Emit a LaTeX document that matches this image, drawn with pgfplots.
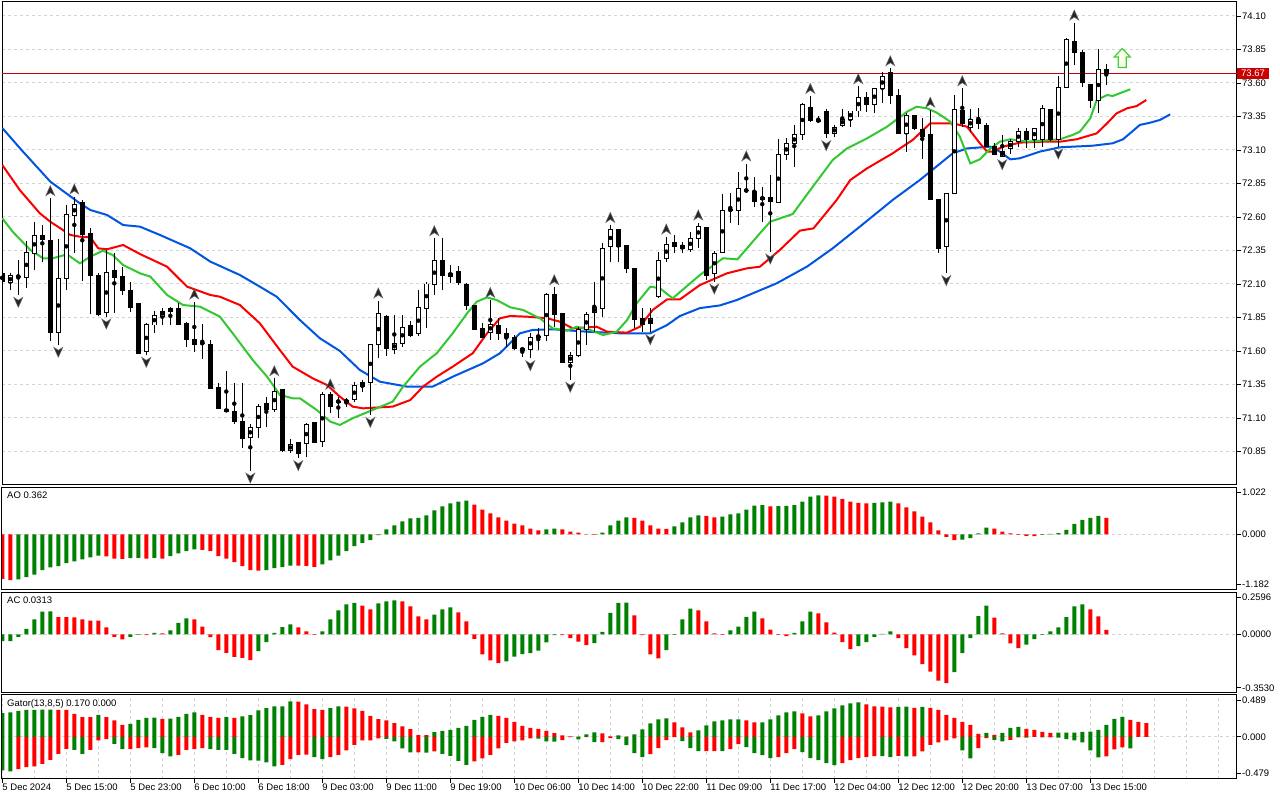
\documentclass[border=0pt]{standalone}
\usepackage{fontspec}
\setmainfont{Liberation Sans}
\usepackage{pgfplots}
\usepackage{pgfplotstable}
\pgfplotsset{compat=1.18}
\definecolor{hgreen}{RGB}{0,128,0}
\definecolor{hred}{RGB}{255,0,0}
\definecolor{jawc}{RGB}{0,85,225}
\definecolor{teethc}{RGB}{250,0,0}
\definecolor{lipsc}{RGB}{50,200,50}
\definecolor{gridc}{RGB}{212,212,212}
\definecolor{pricered}{RGB}{200,0,0}
\definecolor{arrowg}{RGB}{60,210,60}

\pgfdeclareplotmark{fup}{%
  \pgfpathmoveto{\pgfpoint{0pt}{5pt}}%
  \pgfpathlineto{\pgfpoint{4.5pt}{-5pt}}%
  \pgfpathlineto{\pgfpoint{0pt}{-2pt}}%
  \pgfpathlineto{\pgfpoint{-4.5pt}{-5pt}}%
  \pgfpathclose\pgfusepathqfillstroke}
\pgfdeclareplotmark{fdown}{%
  \pgfpathmoveto{\pgfpoint{0pt}{-5pt}}%
  \pgfpathlineto{\pgfpoint{4.5pt}{5pt}}%
  \pgfpathlineto{\pgfpoint{0pt}{2pt}}%
  \pgfpathlineto{\pgfpoint{-4.5pt}{5pt}}%
  \pgfpathclose\pgfusepathqfillstroke}
\pgfdeclareplotmark{buyarrow}{%
  \pgfpathmoveto{\pgfpoint{0pt}{9.5pt}}%
  \pgfpathlineto{\pgfpoint{8pt}{1pt}}%
  \pgfpathlineto{\pgfpoint{4pt}{1pt}}%
  \pgfpathlineto{\pgfpoint{4pt}{-9.5pt}}%
  \pgfpathlineto{\pgfpoint{-4pt}{-9.5pt}}%
  \pgfpathlineto{\pgfpoint{-4pt}{1pt}}%
  \pgfpathlineto{\pgfpoint{-8pt}{1pt}}%
  \pgfpathclose\pgfusepathqfillstroke}

\pgfplotstableread{
i o h l c
0 72.175 72.182 72.110 72.117
1 72.112 72.180 72.055 72.160
2 72.155 72.279 72.018 72.157
3 72.150 72.423 72.068 72.336
4 72.329 72.565 72.204 72.463
5 72.463 72.540 72.267 72.433
6 72.421 72.739 71.677 71.737
7 71.737 72.433 71.645 72.142
8 72.142 72.690 72.055 72.620
9 72.610 72.752 72.329 72.690
10 72.707 72.727 72.125 72.466
11 72.478 72.515 71.876 72.167
12 72.160 72.180 71.864 71.876
13 71.886 72.354 71.856 72.187
14 72.204 72.329 71.881 72.147
15 72.155 72.229 72.018 72.055
16 72.055 72.112 71.894 71.923
17 71.951 71.956 71.578 71.583
18 71.595 71.811 71.570 71.801
19 71.794 71.899 71.732 71.866
20 71.861 71.918 71.794 71.896
21 71.896 71.931 71.794 71.916
22 71.918 71.956 71.794 71.801
23 71.806 71.819 71.627 71.687
24 71.687 71.968 71.590 71.650
25 71.657 71.801 71.538 71.659
26 71.652 71.682 71.316 71.321
27 71.329 71.359 71.165 71.172
28 71.167 71.453 71.142 71.147
29 71.152 71.359 71.055 71.073
30 71.073 71.359 70.879 70.948
31 70.956 71.055 70.707 71.030
32 71.030 71.205 70.948 71.185
33 71.205 71.259 71.035 71.165
34 71.165 71.396 71.147 71.301
35 71.309 71.309 70.849 70.861
36 70.861 70.941 70.836 70.899
37 70.916 70.923 70.799 70.836
38 70.911 71.065 70.811 71.048
39 71.065 71.070 70.911 70.916
40 70.923 71.291 70.886 71.272
41 71.272 71.296 71.135 71.185
42 71.222 71.259 71.097 71.224
43 71.217 71.247 71.185 71.234
44 71.239 71.371 71.222 71.339
45 71.334 71.384 71.297 71.366
46 71.364 71.650 71.122 71.645
47 71.645 71.976 71.545 71.881
48 71.861 71.869 71.563 71.620
49 71.612 71.869 71.578 71.657
50 71.657 71.869 71.632 71.777
51 71.791 71.826 71.707 71.714
52 71.727 72.055 71.712 71.926
53 71.918 72.117 71.769 72.100
54 72.097 72.441 72.018 72.272
55 72.279 72.441 72.055 72.167
56 72.155 72.242 72.105 72.180
57 72.190 72.234 72.093 72.110
58 72.100 72.105 71.906 71.936
59 71.936 71.940 71.757 71.764
60 71.769 71.806 71.694 71.702
61 71.737 71.980 71.682 71.801
62 71.789 71.844 71.682 71.732
63 71.732 71.769 71.632 71.700
64 71.702 71.719 71.608 71.620
65 71.620 71.632 71.558 71.607
66 71.612 71.737 71.545 71.702
67 71.707 71.769 71.607 71.709
68 71.712 72.035 71.677 72.023
69 72.023 72.075 71.782 71.869
70 71.881 71.884 71.508 71.513
71 71.516 71.595 71.384 71.570
72 71.570 71.782 71.558 71.757
73 71.757 71.894 71.645 71.869
74 71.886 72.117 71.744 71.926
75 71.918 72.409 71.856 72.366
76 72.379 72.540 72.262 72.508
77 72.503 72.508 72.267 72.379
78 72.384 72.386 72.180 72.212
79 72.217 72.219 71.769 71.836
80 71.839 71.918 71.744 71.794
81 71.806 71.918 71.739 71.839
82 72.005 72.341 71.998 72.274
83 72.292 72.453 72.267 72.391
84 72.408 72.466 72.329 72.379
85 72.391 72.416 72.329 72.366
86 72.359 72.491 72.341 72.441
87 72.441 72.558 72.366 72.528
88 72.523 72.525 72.130 72.167
89 72.180 72.349 72.117 72.329
90 72.334 72.772 72.329 72.652
91 72.652 72.777 72.558 72.655
92 72.647 72.938 72.540 72.814
93 72.797 72.999 72.777 72.799
94 72.789 72.901 72.677 72.714
95 72.732 72.826 72.565 72.747
96 72.747 72.913 72.341 72.714
97 72.709 73.180 72.707 73.063
98 73.063 73.187 73.025 73.145
99 73.145 73.286 72.971 73.212
100 73.212 73.448 73.175 73.436
101 73.418 73.503 73.311 73.319
102 73.319 73.354 73.299 73.321
103 73.391 73.403 73.187 73.224
104 73.224 73.286 73.199 73.269
105 73.284 73.403 73.269 73.331
106 73.329 73.393 73.269 73.391
107 73.391 73.575 73.349 73.493
108 73.493 73.530 73.386 73.441
109 73.436 73.545 73.379 73.560
110 73.560 73.680 73.448 73.647
111 73.680 73.709 73.443 73.510
112 73.510 73.553 73.219 73.224
113 73.224 73.374 73.088 73.354
114 73.354 73.361 73.249 73.262
115 73.254 73.336 73.030 73.199
116 73.212 73.400 72.727 72.732
117 72.732 72.735 72.329 72.366
118 72.379 72.777 72.180 72.772
119 72.777 73.511 72.772 73.403
120 73.391 73.560 73.269 73.299
121 73.269 73.403 73.237 73.329
122 73.324 73.411 73.254 73.294
123 73.286 73.299 73.120 73.125
124 73.125 73.150 73.060 73.070
125 73.055 73.212 73.045 73.088
126 73.112 73.180 73.070 73.162
127 73.162 73.262 73.125 73.237
128 73.237 73.262 73.112 73.175
129 73.175 73.262 73.112 73.262
130 73.175 73.436 73.125 73.411
131 73.403 73.405 73.170 73.175
132 73.175 73.652 73.125 73.568
133 73.568 73.933 73.560 73.921
134 73.909 74.050 73.734 73.829
135 73.829 73.846 73.568 73.602
136 73.592 73.594 73.411 73.468
137 73.468 73.851 73.374 73.702
138 73.702 73.742 73.585 73.672
}\candles

\pgfplotstableread{
i v
0 73.264
2.4 73.10
6 72.864
9.7 72.702
11 72.652
13.1 72.615
15.1 72.54
17.2 72.528
19.7 72.466
23.5 72.366
26 72.267
29.7 72.167
32.2 72.08
34.3 72.005
37.2 71.831
39.7 71.695
42.2 71.60
44.7 71.458
47.2 71.371
50.6 71.334
53.8 71.334
56.3 71.408
60.1 71.508
62.2 71.583
64.7 71.732
66.3 71.757
68.8 71.762
73.1 71.744
77.2 71.732
81 71.732
83.1 71.794
84.7 71.861
87.2 71.92
89.7 71.94
91.8 71.98
96.8 72.105
100.6 72.23
103.8 72.366
107.2 72.528
111.3 72.727
114.7 72.876
118.8 73.075
120.6 73.112
123.5 73.125
124.7 73.088
126 73.030
127.2 73.038
129.7 73.088
132.2 73.120
136.3 73.132
138.8 73.150
140.1 73.18
142.2 73.287
143.5 73.304
144.7 73.324
146 73.366
}\jaw

\pgfplotstableread{
i v
0 72.988
2.2 72.80
4.7 72.627
6 72.565
8.5 72.466
9.7 72.453
11 72.448
12 72.366
13.1 72.359
15.1 72.391
17.2 72.324
20.6 72.229
23.1 72.08
26 72.018
27.2 72.005
29.7 71.943
32.2 71.806
34.7 71.607
36.3 71.483
38.8 71.396
40.6 71.346
42.2 71.259
43.8 71.185
45.1 71.172
48.8 71.185
51 71.234
52.6 71.334
54.3 71.408
56.3 71.483
58.8 71.583
60.6 71.732
62.2 71.844
63.5 71.861
65.6 71.856
68.1 71.844
69.7 71.819
71.3 71.769
74.3 71.781
75.6 71.744
78.1 71.737
79.7 71.781
81.3 71.906
83.1 71.985
84.7 71.985
87.2 72.092
90.6 72.180
93.1 72.217
94.7 72.229
97.2 72.354
99.7 72.498
101.4 72.515
104.3 72.727
106 72.876
108.1 72.963
111.3 73.075
113.8 73.175
116 73.299
118.8 73.299
120.6 73.274
122.2 73.150
123.1 73.088
123.8 73.088
125.1 73.125
127.2 73.155
130.1 73.162
132.2 73.162
134.3 73.18
136.8 73.224
138.1 73.299
139.3 73.374
140.6 73.411
141.8 73.428
143 73.473
}\teeth

\pgfplotstableread{
i v
0 72.590
1.3 72.49
3.5 72.354
5.1 72.292
6.3 72.292
8.1 72.321
9.7 72.254
11 72.304
12.6 72.349
13.8 72.316
15.1 72.242
17.2 72.180
18.5 72.155
20.6 72.018
22.6 71.943
24.7 71.931
27.2 71.856
28.8 71.732
31.3 71.533
33.1 71.408
34.7 71.272
36.3 71.247
37.2 71.247
39.3 71.160
41 71.073
42.2 71.048
43.8 71.098
46.3 71.160
48.8 71.222
50.1 71.334
52.2 71.483
54.3 71.583
56.3 71.732
58.1 71.881
59.3 71.968
60.6 72.000
61.8 71.980
63.5 71.926
65.1 71.906
67.2 71.844
68.8 71.769
70.6 71.752
71.8 71.781
73.5 71.757
75.1 71.719
76.8 71.744
78.1 71.831
79.3 71.956
81 72.080
82.2 72.068
83.8 71.993
87.2 72.167
90.1 72.292
91.9 72.284
94.7 72.478
96 72.565
98.8 72.622
101 72.801
103.8 73.025
105.6 73.112
108.1 73.187
110.6 73.274
113.1 73.386
114.3 73.423
115.6 73.411
116.8 73.379
118.5 73.311
119.7 73.199
121 73.000
122.2 73.030
123.5 73.110
124.7 73.162
126 73.180
128.1 73.162
132.2 73.180
133.8 73.212
134.7 73.237
136 73.336
136.8 73.473
138.1 73.510
138.8 73.503
141 73.553
}\lips

\pgfplotstableread{
i h
6 72.739
9 72.752
24 71.968
34 71.396
41 71.296
47 71.976
54 72.441
61 71.980
69 72.075
76 72.540
83 72.453
87 72.558
93 72.999
101 73.503
107 73.575
111 73.709
116 73.400
120 73.560
134 74.050
}\fracup

\pgfplotstableread{
i l
2 72.018
7 71.645
13 71.856
18 71.570
31 70.707
37 70.799
46 71.122
66 71.545
71 71.384
81 71.739
89 72.117
96 72.341
103 73.187
118 72.180
125 73.045
132 73.125
}\fracdown

\pgfplotstableread{
i v c
0 -0.964 0
1 -0.993 0
2 -0.978 1
3 -0.928 1
4 -0.870 1
5 -0.775 1
6 -0.717 1
7 -0.688 1
8 -0.623 1
9 -0.587 1
10 -0.543 1
11 -0.500 1
12 -0.457 1
13 -0.478 0
14 -0.522 0
15 -0.529 0
16 -0.514 1
17 -0.507 1
18 -0.522 0
19 -0.507 1
20 -0.522 0
21 -0.471 1
22 -0.413 1
23 -0.362 1
24 -0.326 1
25 -0.333 0
26 -0.362 0
27 -0.471 0
28 -0.522 0
29 -0.601 0
30 -0.688 0
31 -0.775 0
32 -0.783 0
33 -0.775 1
34 -0.732 1
35 -0.710 1
36 -0.674 1
37 -0.675 0
38 -0.681 0
39 -0.703 0
40 -0.652 1
41 -0.565 1
42 -0.457 1
43 -0.362 1
44 -0.254 1
45 -0.181 1
46 -0.123 1
47 -0.014 1
48 0.109 1
49 0.196 1
50 0.283 1
51 0.348 1
52 0.362 1
53 0.413 1
54 0.522 1
55 0.609 1
56 0.674 1
57 0.717 1
58 0.739 1
59 0.652 0
60 0.543 0
61 0.457 0
62 0.370 0
63 0.304 0
64 0.239 0
65 0.196 0
66 0.130 0
67 0.087 0
68 0.109 1
69 0.130 1
70 0.109 0
71 0.065 0
72 0.043 0
73 0.007 0
74 -0.007 0
75 0.043 1
76 0.196 1
77 0.304 1
78 0.370 1
79 0.362 0
80 0.304 0
81 0.196 0
82 0.130 0
83 0.123 0
84 0.174 1
85 0.261 1
86 0.370 1
87 0.413 1
88 0.406 0
89 0.370 0
90 0.391 1
91 0.435 1
92 0.457 1
93 0.543 1
94 0.630 1
95 0.638 1
96 0.609 0
97 0.616 1
98 0.623 1
99 0.638 1
100 0.717 1
101 0.826 1
102 0.848 1
103 0.846 0
104 0.826 0
105 0.775 0
106 0.717 0
107 0.688 0
108 0.674 0
109 0.688 1
110 0.696 1
111 0.717 1
112 0.674 0
113 0.587 0
114 0.500 0
115 0.391 0
116 0.261 0
117 0.087 0
118 -0.051 0
119 -0.123 0
120 -0.109 1
121 -0.080 1
122 0.022 1
123 0.152 1
124 0.130 0
125 0.065 0
126 0.022 0
127 -0.007 0
128 -0.029 0
129 -0.033 0
130 -0.007 1
131 0.014 1
132 0.029 1
133 0.101 1
134 0.233 1
135 0.320 1
136 0.363 1
137 0.407 1
138 0.362 0
}\ao

\pgfplotstableread{
i v c
0 -0.044 1
1 -0.045 1
2 -0.016 1
3 0.038 1
4 0.100 1
5 0.153 1
6 0.154 1
7 0.116 0
8 0.115 0
9 0.114 0
10 0.100 0
11 0.093 0
12 0.092 0
13 0.047 0
14 -0.016 0
15 -0.033 0
16 -0.016 1
17 -0.002 1
18 -0.004 0
19 0.011 1
20 0.007 0
21 0.027 1
22 0.078 1
23 0.107 1
24 0.100 0
25 0.053 0
26 -0.018 0
27 -0.104 0
28 -0.122 0
29 -0.149 0
30 -0.156 0
31 -0.171 0
32 -0.111 1
33 -0.051 1
34 0.011 1
35 0.049 1
36 0.067 1
37 0.047 0
38 0.020 0
39 -0.002 0
40 0.020 1
41 0.100 1
42 0.160 1
43 0.200 1
44 0.211 1
45 0.193 0
46 0.167 0
47 0.207 1
48 0.220 1
49 0.227 1
50 0.220 0
51 0.187 0
52 0.120 0
53 0.100 0
54 0.133 1
55 0.167 1
56 0.180 1
57 0.147 0
58 0.087 0
59 -0.029 0
60 -0.133 0
61 -0.173 0
62 -0.191 0
63 -0.180 1
64 -0.147 1
65 -0.131 1
66 -0.124 1
67 -0.107 1
68 -0.053 1
69 -0.004 1
70 -0.005 0
71 -0.024 0
72 -0.047 0
73 -0.071 0
74 -0.058 1
75 0.018 1
76 0.144 1
77 0.211 1
78 0.213 1
79 0.127 0
80 -0.004 0
81 -0.133 0
82 -0.160 0
83 -0.104 1
84 -0.003 1
85 0.100 1
86 0.173 1
87 0.160 0
88 0.087 0
89 0.007 0
90 -0.002 0
91 0.027 1
92 0.053 1
93 0.118 1
94 0.153 1
95 0.107 0
96 0.033 0
97 -0.002 0
98 -0.011 0
99 0.011 1
100 0.087 1
101 0.153 1
102 0.140 0
103 0.080 0
104 0.013 0
105 -0.051 0
106 -0.098 0
107 -0.078 1
108 -0.051 1
109 -0.016 1
110 0.004 1
111 0.020 1
112 -0.024 0
113 -0.091 0
114 -0.140 0
115 -0.198 0
116 -0.247 0
117 -0.307 0
118 -0.324 0
119 -0.251 1
120 -0.124 1
121 -0.024 1
122 0.122 1
123 0.193 1
124 0.113 0
125 0.007 0
126 -0.060 0
127 -0.091 0
128 -0.067 1
129 -0.031 1
130 -0.002 1
131 0.020 1
132 0.047 1
133 0.116 1
134 0.187 1
135 0.200 1
136 0.167 0
137 0.120 0
138 0.0313 0
}\ac

\pgfplotstableread{
i u uc l lc
0 0.296 1 -0.421 1
1 0.304 1 -0.433 1
2 0.325 1 -0.404 0
3 0.338 1 -0.379 0
4 0.338 1 -0.371 0
5 0.339 1 -0.338 0
6 0.340 1 -0.288 0
7 0.338 0 -0.213 0
8 0.337 0 -0.150 0
9 0.288 0 -0.163 1
10 0.246 0 -0.213 1
11 0.245 0 -0.163 0
12 0.275 1 -0.046 0
13 0.246 0 -0.029 0
14 0.204 0 -0.088 1
15 0.150 0 -0.154 1
16 0.163 1 -0.154 0
17 0.213 1 -0.142 0
18 0.238 1 -0.133 0
19 0.239 1 -0.142 1
20 0.225 0 -0.204 1
21 0.226 1 -0.246 1
22 0.250 1 -0.225 0
23 0.288 1 -0.163 0
24 0.304 1 -0.154 0
25 0.275 0 -0.142 0
26 0.250 0 -0.154 1
27 0.238 0 -0.163 1
28 0.246 1 -0.164 1
29 0.238 0 -0.213 1
30 0.254 1 -0.267 1
31 0.271 1 -0.296 1
32 0.329 1 -0.297 1
33 0.358 1 -0.321 1
34 0.379 1 -0.371 1
35 0.380 1 -0.350 0
36 0.442 1 -0.279 0
37 0.441 0 -0.225 0
38 0.404 0 -0.224 0
39 0.346 0 -0.254 1
40 0.338 0 -0.279 1
41 0.358 1 -0.254 0
42 0.379 1 -0.225 0
43 0.378 0 -0.171 0
44 0.354 0 -0.100 0
45 0.325 0 -0.046 0
46 0.263 0 -0.045 0
47 0.221 0 -0.021 0
48 0.204 0 -0.025 1
49 0.171 0 -0.058 1
50 0.129 0 -0.146 1
51 0.096 0 -0.196 1
52 0.021 0 -0.196 0
53 0.020 0 -0.197 1
54 0.058 1 -0.183 0
55 0.075 1 -0.213 1
56 0.088 1 -0.238 1
57 0.113 1 -0.300 1
58 0.138 1 -0.350 1
59 0.213 1 -0.308 0
60 0.250 1 -0.271 0
61 0.275 1 -0.225 0
62 0.263 0 -0.146 0
63 0.238 0 -0.075 0
64 0.188 0 -0.058 0
65 0.138 0 -0.046 0
66 0.113 0 -0.021 0
67 0.100 0 -0.022 1
68 0.075 0 -0.058 1
69 0.046 0 -0.059 1
70 0.017 0 -0.042 0
71 0.004 0 -0.004 0
72 0.002 1 -0.033 1
73 0.029 1 -0.004 0
74 0.054 1 -0.067 1
75 0.042 0 -0.067 0
76 0.004 0 -0.017 0
77 0.017 1 -0.029 1
78 0.002 0 -0.104 1
79 0.029 1 -0.204 1
80 0.092 1 -0.254 1
81 0.167 1 -0.217 0
82 0.217 1 -0.142 0
83 0.229 1 -0.042 0
84 0.179 0 -0.004 0
85 0.117 0 -0.054 1
86 0.054 0 -0.142 1
87 0.079 1 -0.179 1
88 0.142 1 -0.179 0
89 0.192 1 -0.178 0
90 0.204 1 -0.180 1
91 0.217 1 -0.154 0
92 0.218 1 -0.092 0
93 0.204 0 -0.129 1
94 0.179 0 -0.204 1
95 0.180 1 -0.229 1
96 0.217 1 -0.267 1
97 0.267 1 -0.254 0
98 0.304 1 -0.204 0
99 0.317 1 -0.154 0
100 0.292 0 -0.192 1
101 0.254 0 -0.267 1
102 0.267 1 -0.292 1
103 0.317 1 -0.329 1
104 0.354 1 -0.354 1
105 0.392 1 -0.329 0
106 0.417 1 -0.292 0
107 0.429 1 -0.267 0
108 0.404 0 -0.254 0
109 0.379 0 -0.242 0
110 0.378 0 -0.243 1
111 0.367 0 -0.254 1
112 0.375 1 -0.238 0
113 0.376 1 -0.246 1
114 0.363 0 -0.245 0
115 0.375 1 -0.183 0
116 0.363 0 -0.100 0
117 0.338 0 -0.071 0
118 0.275 0 -0.046 0
119 0.238 0 -0.021 0
120 0.188 0 -0.171 1
121 0.150 0 -0.271 1
122 0.038 0 -0.142 0
123 0.050 1 -0.017 0
124 0.025 0 -0.038 1
125 0.050 1 -0.058 1
126 0.113 1 -0.038 0
127 0.125 1 -0.008 0
128 0.100 0 -0.009 1
129 0.088 0 -0.002 0
130 0.063 0 -0.008 1
131 0.050 0 -0.007 0
132 0.051 1 -0.010 1
133 0.052 1 -0.029 1
134 0.053 1 -0.046 1
135 0.063 1 -0.071 1
136 0.064 1 -0.171 1
137 0.088 1 -0.258 1
138 0.150 1 -0.246 0
139 0.225 1 -0.158 0
140 0.250 1 -0.133 0
141 0.213 0 -0.146 1
142 0.188 0 nan 0
143 0.170 0 nan 0
}\gator

\pgfplotsset{
  mtpanel/.style={
    scale only axis, width=1235pt,
    xmin=-0.0375, xmax=154.34,
    axis line style={black, line width=1pt},
    clip mode=individual,
    xtick=\empty,
    minor xtick={0,4,...,152},
    xminorgrids,
    minor tick length=0pt,
    major tick length=4pt,
    tick align=outside,
    ytick pos=right, yticklabel pos=right,
    tick style={black, line width=0.8pt},
    grid style={gridc, dash pattern=on 3pt off 3pt, line width=1pt},
    minor grid style={gridc, dash pattern=on 3pt off 3pt, line width=1pt},
    every tick label/.append style={font=\fontsize{9.5}{11}\selectfont, text=black},
    yticklabel style={anchor=west, inner sep=1pt},
  },
  histbar/.style={ybar, bar width=4pt, bar shift=0pt, draw=none},
}

\begin{document}
\begin{tikzpicture}
\fill[white] (0,0) rectangle (1280pt,800pt);
\path[use as bounding box] (0,0) rectangle (1280pt,800pt);

% ---------------- main price panel
\begin{axis}[mtpanel, at={(2pt,315pt)}, anchor=south west, height=483pt,
  ymin=70.60, ymax=74.2045,
  ytick={70.85,71.10,71.35,71.60,71.85,72.10,72.35,72.60,72.85,73.10,73.35,73.60,73.85,74.10},
  yticklabels={70.85,71.10,71.35,71.60,71.85,72.10,72.35,72.60,72.85,73.10,73.35,73.60,73.85,74.10},
  ymajorgrids]
% current price line
\addplot[pricered, line width=0.9pt] coordinates {(-1,73.672) (160,73.672)};
% alligator
\addplot[jawc, line width=2pt] table[x=i, y=v] {\jaw};
\addplot[teethc, line width=2pt] table[x=i, y=v] {\teeth};
\addplot[lipsc, line width=2pt] table[x=i, y=v] {\lips};
% wicks
\addplot[only marks, mark=none,
  error bars/.cd, y dir=both, y explicit, error mark=none,
  error bar style={draw=black, line width=1pt}]
  table[x=i, y expr={0.5*(\thisrow{h}+\thisrow{l})}, y error expr={0.5*(\thisrow{h}-\thisrow{l})}] {\candles};
% bodies (outline / bear fill)
\addplot[only marks, mark=none,
  error bars/.cd, y dir=both, y explicit, error mark=none,
  error bar style={draw=black, line width=5pt}]
  table[x=i, y expr={0.5*(\thisrow{o}+\thisrow{c})}, y error expr={0.5*abs(\thisrow{c}-\thisrow{o})+0.0037}] {\candles};
% bull inner white
\addplot[only marks, mark=none,
  error bars/.cd, y dir=both, y explicit, error mark=none,
  error bar style={draw=white, line width=3pt}]
  table[x=i, y expr={\thisrow{c}>\thisrow{o} ? 0.5*(\thisrow{o}+\thisrow{c}) : nan}, y error expr={max(0.5*(\thisrow{c}-\thisrow{o})-0.0037,0)}] {\candles};
% fractals
\addplot[only marks, mark=fup, mark options={fill=black!85, draw=black!60, line width=0.5pt}]
  table[x=i, y expr={\thisrow{h}+0.057}] {\fracup};
\addplot[only marks, mark=fdown, mark options={fill=black!85, draw=black!60, line width=0.5pt}]
  table[x=i, y expr={\thisrow{l}-0.055}] {\fracdown};
% buy arrow
\addplot[only marks, mark=buyarrow, mark options={fill=yellow!8, draw=arrowg, line width=1.2pt}]
  coordinates {(140,73.787)};
\coordinate (pricelab) at (axis cs:154.34,73.672);
\end{axis}
\node[fill=pricered, text=white, anchor=west, inner xsep=4pt, inner ysep=2pt,
  font=\fontsize{9.5}{11}\selectfont] at (pricelab) {73.67};

% ---------------- AO
\begin{axis}[mtpanel, at={(2pt,210pt)}, anchor=south west, height=102.3pt,
  ymin=-1.2065, ymax=1.0174,
  ytick={0}, yticklabels={0.000}, ymajorgrids,
  extra y ticks={0.909,-1.083}, extra y tick labels={1.022,-1.182},
  extra y tick style={grid=none}]
\addplot[histbar, fill=hgreen] table[x=i, y expr={\thisrow{c}>0.5 ? \thisrow{v} : nan}] {\ao};
\addplot[histbar, fill=hred] table[x=i, y expr={\thisrow{c}<0.5 ? \thisrow{v} : nan}] {\ao};
\node[anchor=north west, inner sep=0pt, font=\fontsize{9.5}{11}\selectfont] at (rel axis cs:0,1) [xshift=5pt, yshift=-4pt] {AO 0.362};
\end{axis}

% ---------------- AC
\begin{axis}[mtpanel, at={(2pt,107.3pt)}, anchor=south west, height=100.4pt,
  ymin=-0.388, ymax=0.2813,
  ytick={0}, yticklabels={0.0000}, ymajorgrids,
  extra y ticks={0.248,-0.355}, extra y tick labels={0.2596,-0.3530},
  extra y tick style={grid=none}]
\addplot[histbar, fill=hgreen] table[x=i, y expr={\thisrow{c}>0.5 ? \thisrow{v} : nan}] {\ac};
\addplot[histbar, fill=hred] table[x=i, y expr={\thisrow{c}<0.5 ? \thisrow{v} : nan}] {\ac};
\node[anchor=north west, inner sep=0pt, font=\fontsize{9.5}{11}\selectfont] at (rel axis cs:0,1) [xshift=5pt, yshift=-4pt] {AC 0.0313};
\end{axis}

% ---------------- Gator
\begin{axis}[mtpanel, at={(2pt,21pt)}, anchor=south west, height=84pt,
  ymin=-0.5275, ymax=0.5225,
  ytick={0}, yticklabels={0.000}, ymajorgrids,
  extra y ticks={0.456,-0.456}, extra y tick labels={0.489,-0.479},
  extra y tick style={grid=none},
  xtick={0,8,...,136}, xtick pos=bottom,
  xticklabels={5 Dec 2024,5 Dec 15:00,5 Dec 23:00,6 Dec 10:00,6 Dec 18:00,9 Dec 03:00,9 Dec 11:00,9 Dec 19:00,10 Dec 06:00,10 Dec 14:00,10 Dec 22:00,11 Dec 09:00,11 Dec 17:00,12 Dec 04:00,12 Dec 12:00,12 Dec 20:00,13 Dec 07:00,13 Dec 15:00},
  xticklabel style={anchor=north west, inner sep=0pt, yshift=-1pt}]
\addplot[histbar, fill=hgreen] table[x=i, y expr={\thisrow{uc}>0.5 ? \thisrow{u} : nan}] {\gator};
\addplot[histbar, fill=hred] table[x=i, y expr={\thisrow{uc}<0.5 ? \thisrow{u} : nan}] {\gator};
\addplot[histbar, fill=hgreen] table[x=i, y expr={\thisrow{lc}>0.5 ? \thisrow{l} : nan}] {\gator};
\addplot[histbar, fill=hred] table[x=i, y expr={\thisrow{lc}<0.5 ? \thisrow{l} : nan}] {\gator};
\node[anchor=north west, inner sep=0pt, font=\fontsize{9.5}{11}\selectfont] at (rel axis cs:0,1) [xshift=5pt, yshift=-4pt] {Gator(13,8,5) 0.170 0.000};
\end{axis}
\end{tikzpicture}
\end{document}
